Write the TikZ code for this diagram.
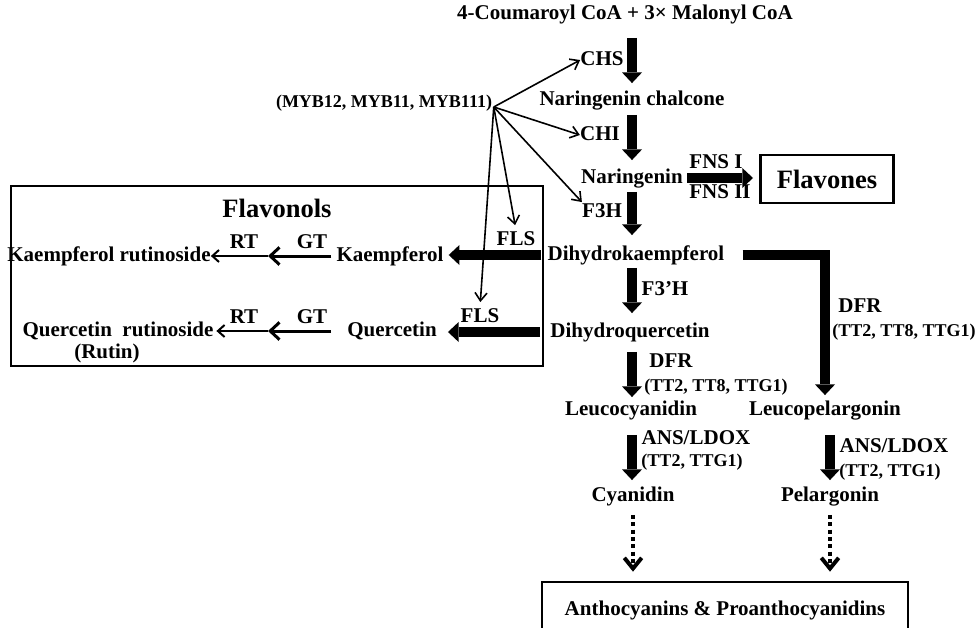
\documentclass[tikz,border=0pt]{standalone}
\usepackage{fontspec}
\setmainfont{Liberation Serif}
\usetikzlibrary{arrows.meta}

\begin{document}
\begin{tikzpicture}[x=0.75pt,y=-0.75pt,
  cpd/.style={font=\fontsize{15.75}{18}\selectfont\bfseries,inner sep=0pt,text height=11pt,text depth=3.5pt},
  sub/.style={font=\fontsize{13.5}{16}\selectfont\bfseries,inner sep=0pt,text height=9.5pt,text depth=3pt},
  big/.style={font=\fontsize{19.9}{23}\selectfont\bfseries,inner sep=0pt},
  frame/.style={draw,line width=2pt},
  flux/.style={line width=7pt,-{Triangle[length=8pt,width=15pt,line width=0pt]}},
  reg/.style={line width=1.2pt,-{Straight Barb[length=6pt,width=9pt]}},
  gt/.style={line width=2.25pt,-{Straight Barb[length=7pt,width=13pt]}},
  rt/.style={line width=1.5pt,-{Straight Barb[length=5pt,width=9pt]}},
  later/.style={line width=3pt,dash pattern=on 3pt off 2.5pt,-{Straight Barb[length=8pt,width=13pt]}}]
  \useasboundingbox (0,0) rectangle (976,628);
  % main pathway
  \node[cpd] (coum) at (625,15) {4-Coumaroyl CoA + 3×\ Malonyl CoA};
  \node[cpd] (chal) at (632,100) {Naringenin chalcone};
  \node[cpd] (nar)  at (632,178) {Naringenin};
  \node[cpd] (dhk)  at (636,255) {Dihydrokaempferol};
  \node[cpd] (dhq)  at (630,332) {Dihydroquercetin};
  \node[cpd] (lcy)  at (631,410) {Leucocyanidin};
  \node[cpd] (lpg)  at (825,410) {Leucopelargonin};
  \node[cpd] (cya)  at (633,496) {Cyanidin};
  \node[cpd] (pel)  at (830,496) {Pelargonin};
  \node[big,frame,minimum width=100pt,minimum height=36pt] (flavones) at (827,179) {Flavones};
  \node[cpd,frame,minimum width=274.5pt,minimum height=42pt] (antho) at (725,610) {Anthocyanins \& Proanthocyanidins};
  % enzymes
  \node[cpd] (chs)  at (602,60)  {CHS};
  \node[cpd] (chi)  at (600,135) {CHI};
  \node[cpd] (f3h)  at (602,212) {F3H};
  \node[cpd] (fns1) at (716,163) {FNS I};
  \node[cpd] (fns2) at (720,193) {FNS II};
  \node[cpd] (f3ph) at (665,290) {F3’H};
  \node[cpd] (dfr1) at (671,362) {DFR};
  \node[sub] (tt1)  at (716,387) {(TT2, TT8, TTG1)};
  \node[cpd] (dfr2) at (860,307) {DFR};
  \node[sub] (tt2)  at (904,332) {(TT2, TT8, TTG1)};
  \node[cpd] (ans1) at (696,439) {ANS/LDOX};
  \node[sub] (tt3)  at (692,462) {(TT2, TTG1)};
  \node[cpd] (ans2) at (894,447) {ANS/LDOX};
  \node[sub] (tt4)  at (890,472) {(TT2, TTG1)};
  % flavonols
  \draw[line width=2pt] (11,186) rectangle (543,366);
  \node[big] (flvl) at (277,208) {Flavonols};
  \node[cpd] (kae)  at (390,256) {Kaempferol};
  \node[cpd] (que)  at (392,331) {Quercetin};
  \node[cpd] (kru)  at (109,256) {Kaempferol rutinoside};
  \node[cpd] (qru)  at (118,331) {Quercetin\ \ rutinoside};
  \node[cpd] (rutin) at (107,353) {(Rutin)};
  \node[cpd] (fls1) at (516,240) {FLS};
  \node[cpd] (fls2) at (480,317) {FLS};
  \node[cpd] (gt1)  at (312,243) {GT};
  \node[cpd] (rt1)  at (244,243) {RT};
  \node[cpd] (gt2)  at (312,318) {GT};
  \node[cpd] (rt2)  at (244,318) {RT};
  \coordinate (kjoin) at (268,256);
  \coordinate (qjoin) at (268,331);
  % regulators
  \node[sub] (myb) at (384,103) {(MYB12, MYB11, MYB111)};
  \coordinate (hub) at ([shift={(1.5,4)}]myb.east);
  % arrows
  \draw[flux,shorten <=9.75pt,shorten >=5.25pt] (coum.south -| chal.north) -- (chal.north);
  \draw[flux,shorten <=3.75pt,shorten >=6pt] (chal.south) -- (nar.north);
  \draw[flux,shorten <=3pt,shorten >=7.5pt] (nar.south) -- (nar.south |- dhk.north);
  \draw[flux,shorten <=2.25pt,shorten >=6.75pt] (dhk.south -| nar.south) -- (nar.south |- dhq.north);
  \draw[flux,shorten <=7.5pt,shorten >=2.25pt] (dhq.south -| nar.south) -- (nar.south |- lcy.north);
  \draw[flux,shorten <=11.25pt,shorten >=4.5pt] (lcy.south -| nar.south) -- (nar.south |- cya.north);
  \draw[flux,line join=miter,shorten <=13.5pt,shorten >=3.75pt] (dhk.east) -| (lpg.north);
  \draw[flux,shorten <=11.25pt,shorten >=4.5pt] (lpg.south -| pel.north) -- (pel.north);
  \draw[flux,shorten <=3pt,shorten >=4.5pt] (nar.east) -- (nar.east -| flavones.west);
  \draw[flux,shorten <=4.5pt,shorten >=3.75pt] (dhk.west) -- (dhk.west -| kae.east);
  \draw[flux,shorten <=7.5pt,shorten >=8.25pt] (dhq.west) -- (dhq.west -| que.east);
  \draw[later,shorten <=6.75pt,shorten >=6.75pt] (cya.south) -- (cya.south |- antho.north);
  \draw[later,shorten <=6.75pt,shorten >=6.75pt] (pel.south) -- (pel.south |- antho.north);
  \draw[gt,shorten <=3.75pt] (kae.west) -- (kjoin);
  \draw[rt] (kjoin) -- (kru.east);
  \draw[gt,shorten <=12pt] (que.west) -- (qjoin);
  \draw[rt,shorten >=2pt] (qjoin) -- (qru.east);
  \draw[reg] (hub) -- (chs.west);
  \draw[reg] (hub) -- (chi.west);
  \draw[reg] (hub) -- (f3h.north west);
  \draw[reg,shorten >=3.75pt] (hub) -- (fls1.north);
  \draw[reg,shorten >=3.75pt] (hub) -- (fls2.north);
\end{tikzpicture}
\end{document}
